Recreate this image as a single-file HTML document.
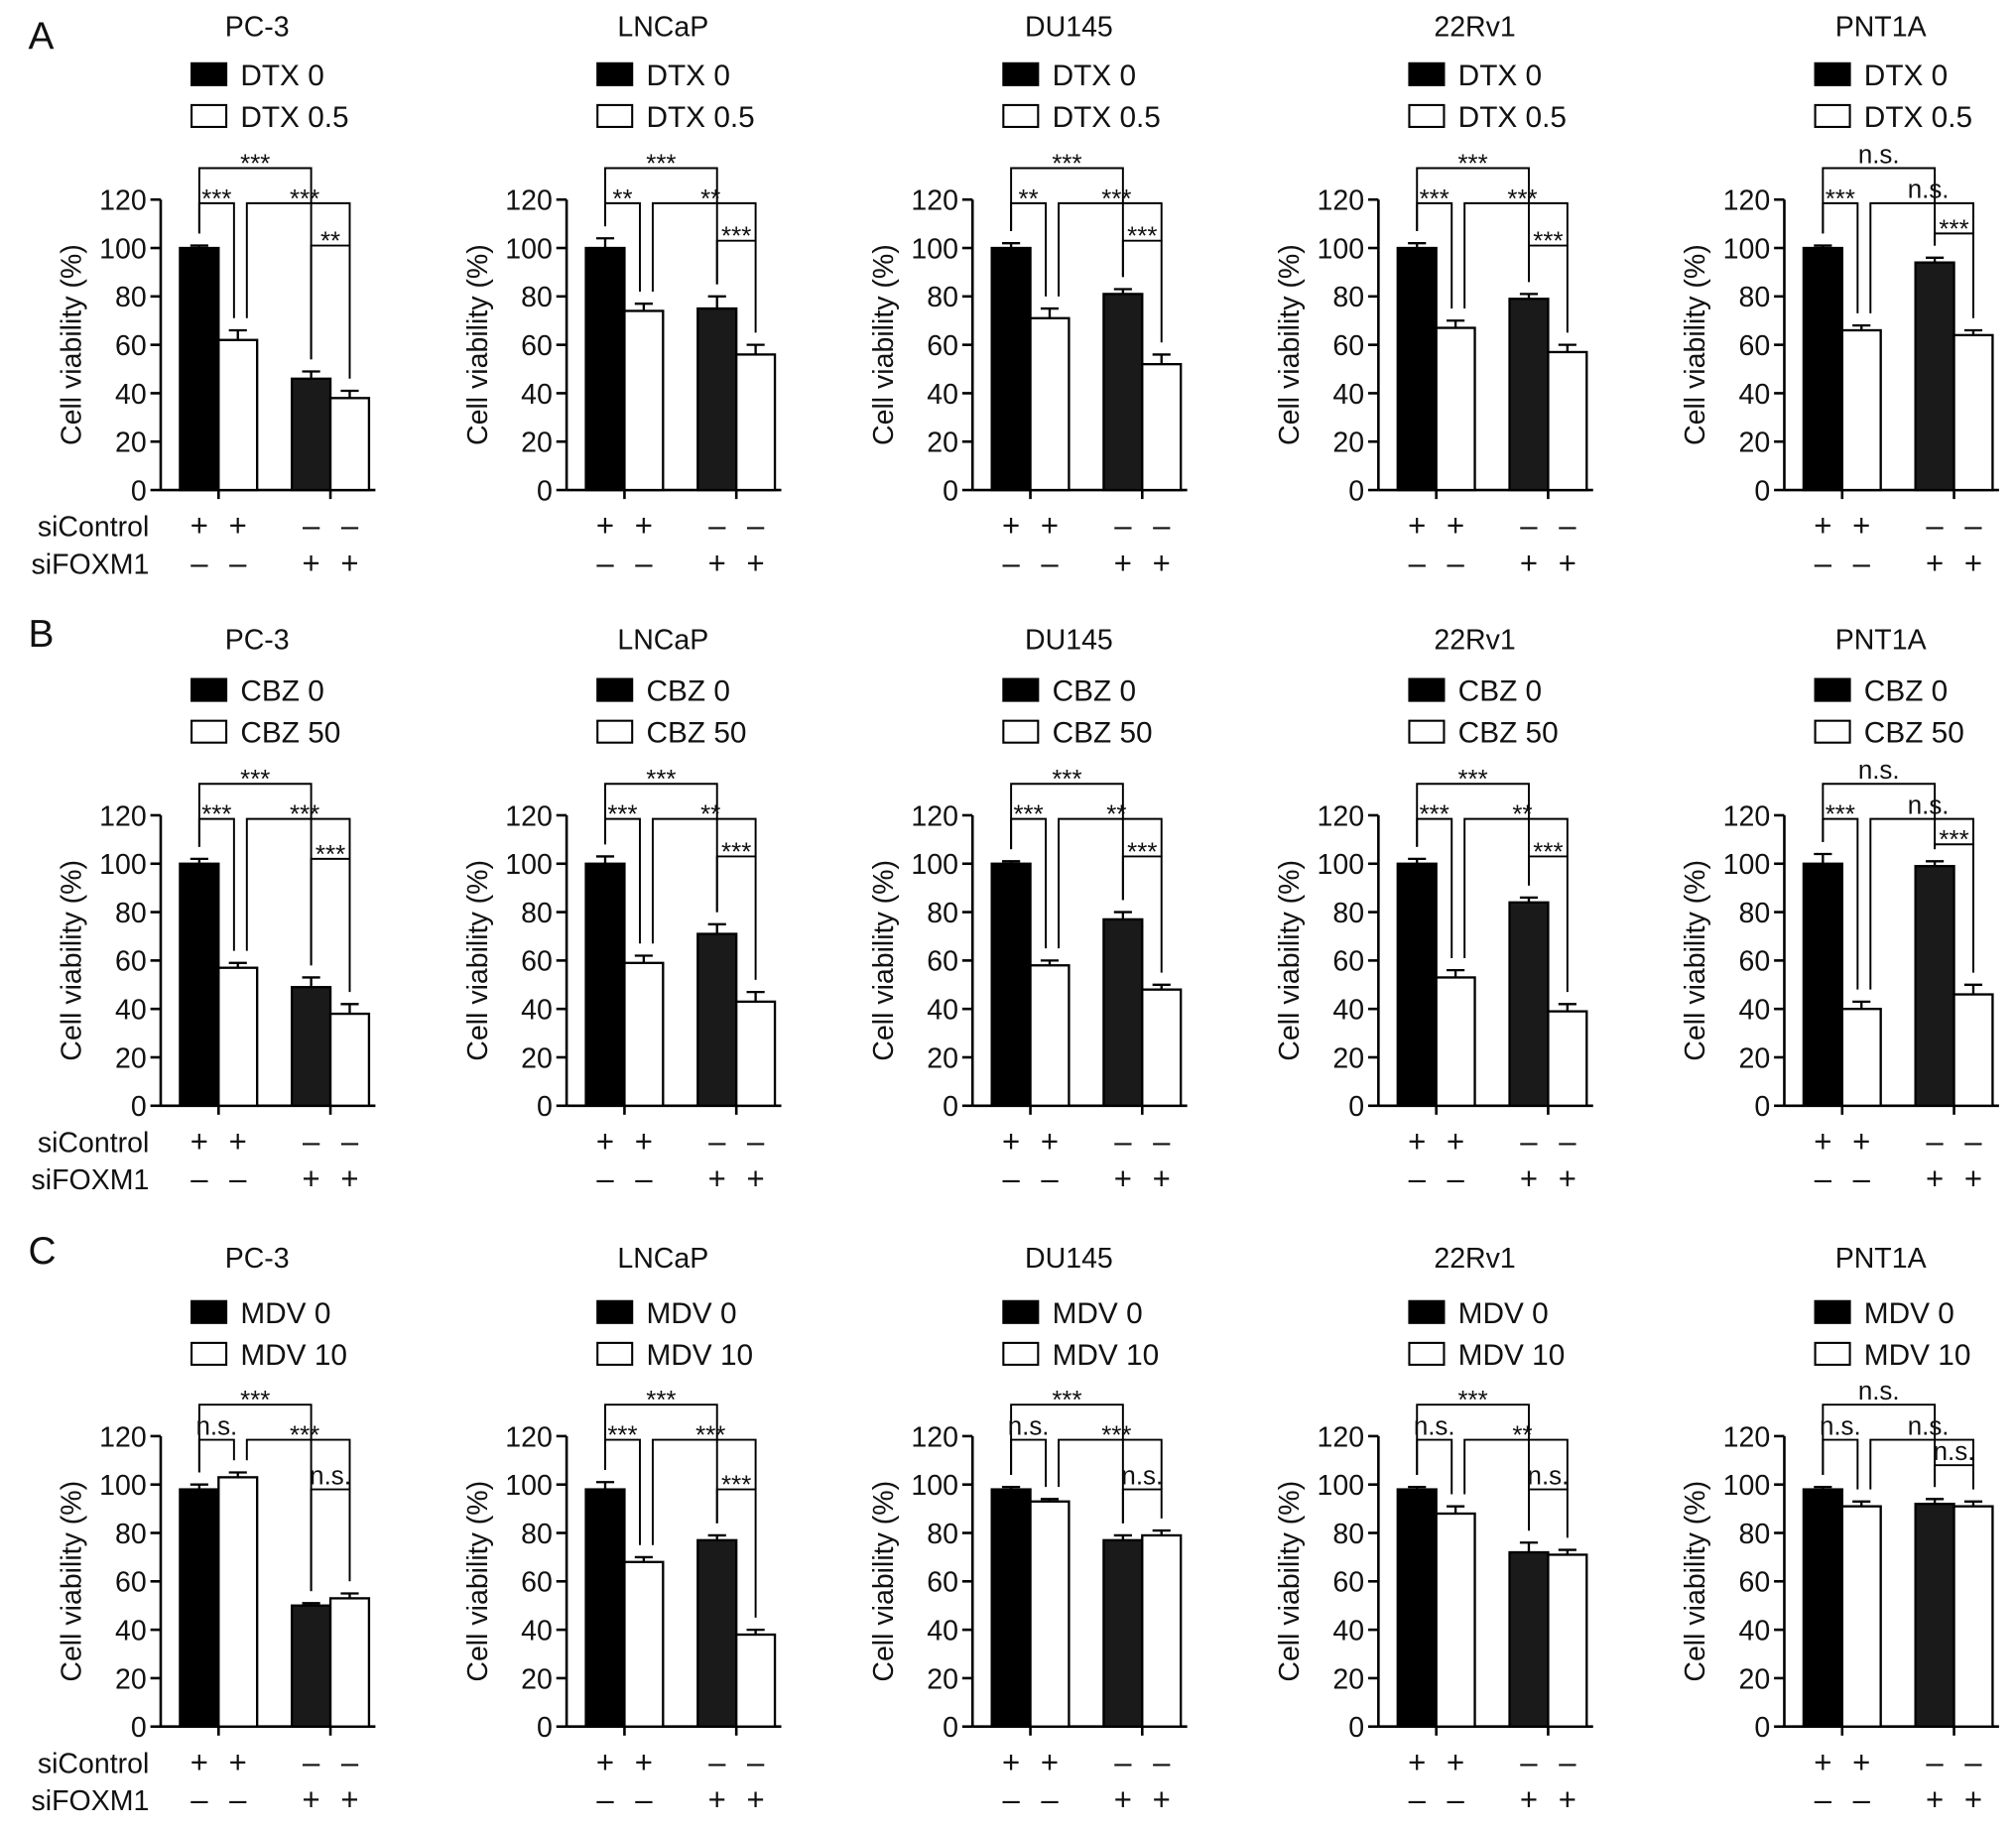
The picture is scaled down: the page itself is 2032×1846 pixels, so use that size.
<!DOCTYPE html>
<html><head><meta charset="utf-8"><style>
html,body{margin:0;padding:0;background:#fff;}
svg{display:block;font-family:"Liberation Sans",Arial,sans-serif;}
</style></head><body>
<svg id="fig" width="2032" height="1846" viewBox="0 0 1568 1424" xmlns="http://www.w3.org/2000/svg"></svg>
<script>
const cellLines = ["PC-3","LNCaP","DU145","22Rv1","PNT1A"];
const rowLetters = ["A","B","C"];
const legendLabels = [["DTX 0","DTX 0.5"],["CBZ 0","CBZ 50"],["MDV 0","MDV 10"]];
const yTicks = [0,20,40,60,80,100,120];
const rowAValues = [[100,62,46,38],[100,74,75,56],[100,71,81,52],[100,67,79,57],[100,66,94,64]];
const rowAErrors = [[1,4,3,3],[4,3,5,4],[2,4,2,4],[2,3,2,3],[1,2,2,2]];
const rowBValues = [[100,57,49,38],[100,59,71,43],[100,58,77,48],[100,53,84,39],[100,40,99,46]];
const rowBErrors = [[2,2,4,4],[3,3,4,4],[1,2,3,2],[2,3,2,3],[4,3,2,4]];
const rowCValues = [[98,103,50,53],[98,68,77,38],[98,93,77,79],[98,88,72,71],[98,91,92,91]];
const rowCErrors = [[2,2,1,2],[3,2,2,2],[1,1,2,2],[1,3,4,2],[1,2,2,2]];
const rowASig = [["***","***","***","**"],["***","**","**","***"],["***","**","***","***"],["***","***","***","***"],["n.s.","***","n.s.","***"]];
const rowBSig = [["***","***","***","***"],["***","***","**","***"],["***","***","**","***"],["***","***","**","***"],["n.s.","***","n.s.","***"]];
const rowCSig = [["***","n.s.","***","n.s."],["***","***","***","***"],["***","n.s.","***","n.s."],["***","n.s.","**","n.s."],["n.s.","n.s.","n.s.","n.s."]];
const lowBracket = [[101,103,103,101,106],[102,103,103,103,108],[98,98,98,98,108]];
const siControl = ["+","+","–","–"];
const siFOXM1 = ["–","–","+","+"];

const svg = document.getElementById('fig');
const NS = "http://www.w3.org/2000/svg";
function mk(tag, attrs, parent){ const e=document.createElementNS(NS,tag); for(const k in attrs) e.setAttribute(k,attrs[k]); (parent||svg).appendChild(e); return e; }
function txt(x,y,s,size,anchor,parent){ const t=mk('text',{x:x,y:y,'font-size':size,'text-anchor':anchor||'middle',fill:'#111'},parent); t.textContent=s; return t; }

const allValues=[rowAValues,rowBValues,rowCValues];
const allErrors=[rowAErrors,rowBErrors,rowCErrors];
const allSig=[rowASig,rowBSig,rowCSig];
const rowBase=[381,860,1343];
const rowTitleY=[28,505,986];
const legendY=[58,537,1021];
const S=1.883;
const barOff=[30,60,117,147];

for(let r=0;r<3;r++){
  const L=txt(22,[38,503,983][r],rowLetters[r],30,'start');
  
  
  for(let c=0;c<5;c++){
    const ox=125+c*315.7, oy=rowBase[r];
    const g=mk('g',{});
    
    
    const yv=v=>oy-v*S;
    const t=txt(ox+75,rowTitleY[r],cellLines[c],22,'middle',g);
    
    
    for(let k=0;k<2;k++){
      const ly=legendY[r]+k*32.5;
      const b=mk('rect',{x:ox+24,y:ly-9,width:27,height:17,fill:k?'#fff':'#000',stroke:'#000','stroke-width':1.6},g);
      
      
      const lt=txt(ox+62,ly+8,legendLabels[r][k],23,'start',g);
      
      
    }
    mk('line',{x1:ox,y1:yv(120),x2:ox,y2:oy,stroke:'#000','stroke-width':2},g);
    mk('line',{x1:ox,y1:oy,x2:ox+167,y2:oy,stroke:'#000','stroke-width':2},g);
    mk('line',{x1:ox+45,y1:oy,x2:ox+45,y2:oy+7,stroke:'#000','stroke-width':2},g);
    mk('line',{x1:ox+132,y1:oy,x2:ox+132,y2:oy+7,stroke:'#000','stroke-width':2},g);
    yTicks.forEach(v=>{
      mk('line',{x1:ox-8,y1:yv(v),x2:ox,y2:yv(v),stroke:'#000','stroke-width':2},g);
      const tl=txt(ox-11,yv(v)+8,String(v),22,'end',g);
      
      
    });
    const yl=txt(0,0,'Cell viability (%)',22,'middle',g);
    yl.setAttribute('transform','translate('+(ox-62)+','+(oy-113)+') rotate(-90)');
    
    
    const vals=allValues[r][c], errs=allErrors[r][c];
    vals.forEach((v,i)=>{
      const cx=ox+barOff[i];
      const bar=mk('rect',{x:cx-15,y:yv(v),width:30,height:v*S,fill:(i%2)?'#fff':(i==2?'#1a1a1a':'#000'),stroke:'#000','stroke-width':1.8},g);
      
      
      const et=yv(v+errs[i]);
      mk('line',{x1:cx,y1:yv(v),x2:cx,y2:et,stroke:'#000','stroke-width':1.8},g);
      mk('line',{x1:cx-7,y1:et,x2:cx+7,y2:et,stroke:'#000','stroke-width':1.8},g);
      const p=txt(cx,oy+36,siControl[i],24,'middle',g);
      
      
      const q=txt(cx,oy+65,siFOXM1[i],24,'middle',g);
      
      
    });
    if(c===0){
      const a=txt(ox-9,oy+36,'siControl',22,'end',g);
      
      
      const b=txt(ox-9,oy+65,'siFOXM1',22,'end',g);
      
      
    }
    const sig=allSig[r][c];
    const topOf=i=>vals[i]+errs[i]+5;
    const br=(x1,x2,lvl,b1,b2,label,lx)=>{
      const y=yv(lvl);
      mk('polyline',{points:`${x1},${yv(b1)} ${x1},${y} ${x2},${y} ${x2},${yv(b2)}`,fill:'none',stroke:'#000','stroke-width':1.5},g);
      const s=txt(lx!==undefined?lx:(x1+x2)/2,y-(label==='n.s.'?4:-3),label,label==='n.s.'?20:20,'middle',g);
      
      
    };
    const x=i=>ox+barOff[i];
    br(x(0),x(2),133,topOf(0),topOf(2),sig[0]);
    br(x(0),x(1)-3,118.5,topOf(0),topOf(1),sig[1]);
    br(x(1)+7,x(3),118.5,topOf(1),lowBracket[r][c],sig[2],x(2)-5);
    br(x(2),x(3),lowBracket[r][c],topOf(2),topOf(3),sig[3]);
  }
}
</script>
</body></html>
